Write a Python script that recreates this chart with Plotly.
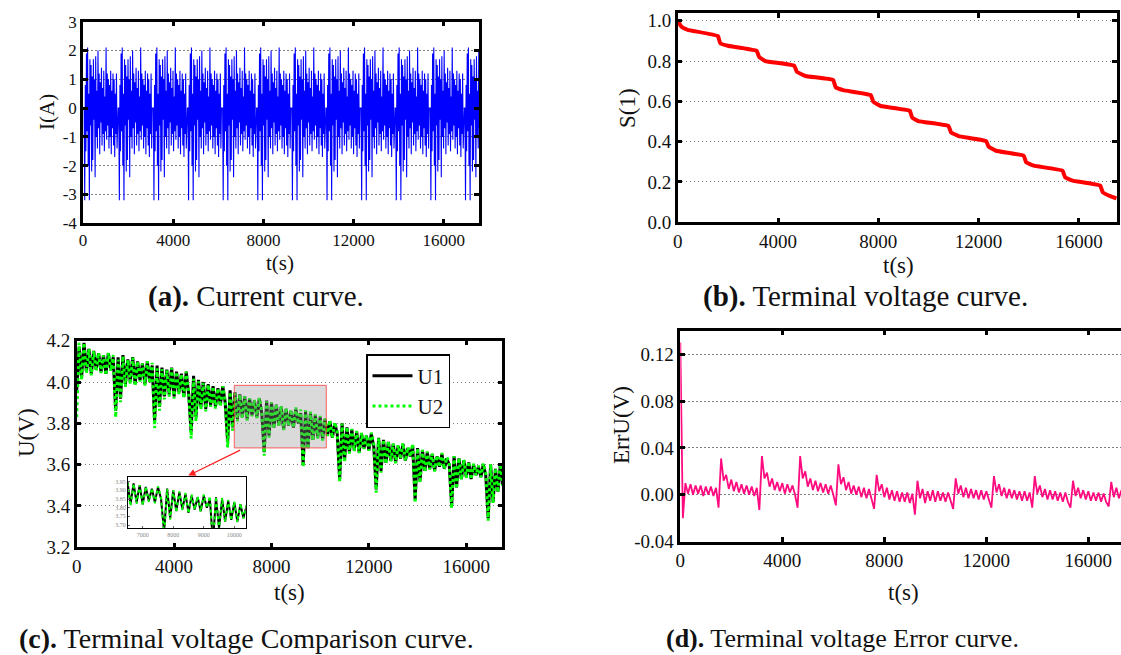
import numpy as np
import plotly.graph_objects as go

# ---------------- DATA ----------------
# (a) current: one drive-cycle profile (A); the test repeats this profile
current_cycle = [0.0, 0.0, 0.0, -3.2, 0.8, -1.5, 1.9, -0.8, 2.1, -2.0,
                 0.5, -3.2, 1.7, -0.6, 1.5, -2.2, 1.1, -1.8, 1.7, -0.4,
                 1.0, -2.4, 1.8, -1.0, 0.6, -1.4, 2.0, -0.7, 1.2, -1.6,
                 0.9, -0.5, 1.4, -1.3, 0.7, -0.9, 1.3, -1.5, 0.4, -0.8,
                 2.1, -1.1, 1.2, -0.6, 1.0, -1.4, 0.8, -1.0, 1.3, -1.6,
                 0.6, -0.7, 1.2, -1.3, 1.0, -1.7, 0.5, -0.9, 1.2, -1.4]
cycle_period_s = 1535
n_cycles = 12

# (b) SOC S(1) breakpoints
soc_t = [0, 150, 400, 1600, 1700, 2000, 3150, 3250, 3500, 4650, 4750, 5100,
         6200, 6300, 6600, 7700, 7800, 8100, 9250, 9350, 9600, 10800, 10900,
         11200, 12300, 12400, 12700, 13800, 13900, 14200, 15350, 15450, 15750,
         16850, 16950, 17250, 17500]
soc_v = [1.0, 0.97, 0.955, 0.924, 0.888, 0.876, 0.851, 0.82, 0.80, 0.777,
         0.747, 0.726, 0.706, 0.67, 0.656, 0.631, 0.598, 0.577, 0.554, 0.52,
         0.502, 0.478, 0.446, 0.428, 0.403, 0.375, 0.355, 0.33, 0.297, 0.281,
         0.256, 0.223, 0.207, 0.182, 0.149, 0.13, 0.119]

# (c) terminal voltage U1 (V), sampled every 100 s from 0 to 17500 s
u_step_s = 100
U1 = [3.96, 4.17, 4.02, 4.19, 4.05, 4.16, 4.04, 4.15, 4.06, 4.14,
      4.05, 4.13, 4.04, 4.14, 4.06, 4.12, 3.86, 4.12, 3.92, 4.13,
      3.99, 4.11, 4.00, 4.12, 3.99, 4.10, 4.01, 4.09, 3.99, 4.10,
      4.00, 4.08, 3.81, 4.08, 3.88, 4.07, 3.93, 4.06, 3.94, 4.07,
      3.93, 4.05, 3.95, 4.04, 3.93, 4.05, 3.94, 3.76, 4.03, 3.83,
      4.01, 3.88, 4.00, 3.87, 3.99, 3.89, 3.98, 3.88, 3.97, 3.89,
      3.98, 3.90, 3.71, 3.96, 3.78, 3.95, 3.82, 3.94, 3.83, 3.93,
      3.82, 3.92, 3.84, 3.91, 3.83, 3.92, 3.85, 3.66, 3.91, 3.74,
      3.90, 3.78, 3.89, 3.79, 3.88, 3.77, 3.87, 3.79, 3.86, 3.78,
      3.87, 3.80, 3.85, 3.60, 3.86, 3.68, 3.85, 3.72, 3.84, 3.73,
      3.83, 3.72, 3.82, 3.74, 3.81, 3.73, 3.80, 3.75, 3.53, 3.80,
      3.62, 3.78, 3.66, 3.77, 3.67, 3.76, 3.66, 3.75, 3.68, 3.74,
      3.67, 3.75, 3.69, 3.48, 3.73, 3.57, 3.72, 3.61, 3.71, 3.62,
      3.70, 3.61, 3.69, 3.63, 3.70, 3.62, 3.68, 3.64, 3.69, 3.43,
      3.68, 3.52, 3.67, 3.57, 3.66, 3.58, 3.65, 3.57, 3.64, 3.59,
      3.65, 3.58, 3.63, 3.60, 3.40, 3.64, 3.49, 3.63, 3.53, 3.62,
      3.54, 3.61, 3.53, 3.60, 3.55, 3.59, 3.54, 3.60, 3.55, 3.34,
      3.60, 3.42, 3.58, 3.47, 3.60, 3.50]

# (d) terminal voltage error ErrU = U1 - U2 (V), same sampling
ErrU = [0.130, -0.020, 0.010, 0.001, 0.009, 0.000, 0.008, 0.001, 0.008, -0.001,
        0.007, 0.000, 0.007, -0.001, 0.006, -0.011,
        0.031, 0.012, 0.017, 0.005, 0.013, 0.003, 0.011, 0.002, 0.009, 0.001,
        0.008, 0.000, 0.007, -0.001, 0.006, -0.013,
        0.033, 0.014, 0.019, 0.007, 0.014, 0.004, 0.011, 0.003, 0.010, 0.001,
        0.009, 0.002, 0.008, 0.000, -0.011,
        0.033, 0.014, 0.020, 0.007, 0.014, 0.004, 0.012, 0.003, 0.010, 0.002,
        0.009, 0.001, 0.008, 0.000, -0.009,
        0.026, 0.009, 0.015, 0.004, 0.011, 0.001, 0.008, 0.000, 0.007, -0.002,
        0.006, -0.003, 0.005, -0.003, -0.012,
        0.017, 0.003, 0.009, -0.002, 0.006, -0.004, 0.004, -0.005, 0.003, -0.006,
        0.002, -0.006, 0.002, -0.007, 0.001, -0.017,
        0.012, -0.003, 0.005, -0.007, 0.003, -0.005, 0.004, -0.006, 0.003, -0.005,
        0.002, -0.006, 0.002, -0.005, -0.012,
        0.014, 0.001, 0.008, -0.002, 0.006, -0.003, 0.005, -0.003, 0.004, -0.004,
        0.004, -0.004, 0.003, -0.005, -0.011,
        0.016, 0.002, 0.009, -0.001, 0.006, -0.003, 0.005, -0.003, 0.004, -0.004,
        0.003, -0.005, 0.003, -0.005, 0.002, -0.011,
        0.016, 0.001, 0.008, -0.002, 0.005, -0.004, 0.004, -0.004, 0.003, -0.005,
        0.002, -0.006, 0.002, -0.006, -0.011,
        0.012, -0.001, 0.006, -0.003, 0.004, -0.004, 0.003, -0.005, 0.002, -0.005,
        0.002, -0.006, 0.001, -0.006, -0.010,
        0.011, -0.002, 0.006, -0.003, 0.004, -0.004, 0.003]

# tick labels
x_ticks = [0, 4000, 8000, 12000, 16000]
x_tick_text = ["0", "4000", "8000", "12000", "16000"]
a_y_ticks = [-4, -3, -2, -1, 0, 1, 2, 3]
a_y_text = ["-4", "-3", "-2", "-1", "0", "1", "2", "3"]
b_y_ticks = [0.0, 0.2, 0.4, 0.6, 0.8, 1.0]
b_y_text = ["0.0", "0.2", "0.4", "0.6", "0.8", "1.0"]
c_y_ticks = [3.2, 3.4, 3.6, 3.8, 4.0, 4.2]
c_y_text = ["3.2", "3.4", "3.6", "3.8", "4.0", "4.2"]
d_y_ticks = [-0.04, 0.0, 0.04, 0.08, 0.12]
d_y_text = ["-0.04", "0.00", "0.04", "0.08", "0.12"]
in_x_ticks = [7000, 8000, 9000, 10000]
in_x_text = ["7000", "8000", "9000", "10000"]
in_y_ticks = [3.70, 3.75, 3.80, 3.85, 3.90, 3.95]
in_y_text = ["3.70", "3.75", "3.80", "3.85", "3.90", "3.95"]

# ---------------- DERIVED ----------------
cur_dt = cycle_period_s / len(current_cycle)
current = np.tile(current_cycle, n_cycles)
t_cur = np.arange(len(current)) * cur_dt
t_u = np.arange(len(U1)) * u_step_s
U1a = np.array(U1)
U2a = U1a - np.array(ErrU)

FONT = "Liberation Serif, Times New Roman, serif"
W, H = 1121, 655
GRID_DASH = "1.5px,2.5px"

def px(x):
    return x / W

def py(y):
    return 1 - y / H

fig = go.Figure()

# (a)
fig.add_trace(go.Scatter(x=t_cur, y=current, mode="lines",
                         line=dict(color="#0000FF", width=1.1),
                         xaxis="x", yaxis="y", showlegend=False))
# (b)
fig.add_trace(go.Scatter(x=soc_t, y=soc_v, mode="lines",
                         line=dict(color="#FF0000", width=4, shape="spline", smoothing=0.3),
                         xaxis="x2", yaxis="y2", showlegend=False))
# (c)
fig.add_trace(go.Scatter(x=t_u, y=U1a, mode="lines", name="U1",
                         line=dict(color="#000000", width=3),
                         xaxis="x3", yaxis="y3"))
fig.add_trace(go.Scatter(x=t_u, y=U2a, mode="lines", name="U2",
                         line=dict(color="#00FF00", width=3, dash="dot"),
                         xaxis="x3", yaxis="y3"))
# inset
fig.add_trace(go.Scatter(x=t_u, y=U1a, mode="lines",
                         line=dict(color="#000000", width=2),
                         xaxis="x5", yaxis="y5", showlegend=False))
fig.add_trace(go.Scatter(x=t_u, y=U2a, mode="lines",
                         line=dict(color="#00FF00", width=2, dash="dot"),
                         xaxis="x5", yaxis="y5", showlegend=False))
# (d)
fig.add_trace(go.Scatter(x=t_u, y=ErrU, mode="lines",
                         line=dict(color="#FF0A7F", width=1.8),
                         xaxis="x4", yaxis="y4", showlegend=False))

def xax(domain, rng, anchor, size, mirror="ticks"):
    return dict(domain=domain, range=rng, anchor=anchor,
                tickvals=x_ticks, ticktext=x_tick_text,
                showline=True, linecolor="black", linewidth=2.5, mirror=mirror,
                ticks="inside", ticklen=5, tickwidth=2.5, tickcolor="black",
                showgrid=False, zeroline=False,
                tickfont=dict(family=FONT, size=size, color="#111"))

def yax(domain, rng, anchor, tv, tt, size, mirror="ticks"):
    return dict(domain=domain, range=rng, anchor=anchor,
                tickvals=tv, ticktext=tt,
                showline=True, linecolor="black", linewidth=2.5, mirror=mirror,
                ticks="inside", ticklen=5, tickwidth=2.5, tickcolor="black",
                showgrid=True, gridcolor="#808080", griddash=GRID_DASH, gridwidth=1,
                zeroline=False,
                tickfont=dict(family=FONT, size=size, color="#111"))

layout = dict(
    width=W, height=H, autosize=False,
    margin=dict(l=0, r=0, t=0, b=0, pad=0, autoexpand=False),
    paper_bgcolor="white", plot_bgcolor="white",
    font=dict(family=FONT, color="#111"),
    xaxis=xax([px(83), px(479)], [0, 17560], "y", 17),
    yaxis=yax([py(223.3), py(21.7)], [-4, 3], "x", a_y_ticks, a_y_text, 17),
    xaxis2=xax([px(677.7), px(1117)], [0, 17520], "y2", 19),
    yaxis2=yax([py(222.3), py(13.3)], [0, 1.037], "x2", b_y_ticks, b_y_text, 19),
    xaxis3=xax([px(76.7), px(502.3)], [0, 17480], "y3", 19),
    yaxis3=yax([py(547.3), py(340.7)], [3.2, 4.2], "x3", c_y_ticks, c_y_text, 19),
    xaxis4=xax([px(680.3), 1.0], [0, 17282], "y4", 19),
    yaxis4=yax([py(541.7), py(330.7)], [-0.04, 0.14], "x4", d_y_ticks, d_y_text, 19, mirror=False),
    xaxis5=dict(domain=[px(128), px(245.7)], range=[6518, 10373], anchor="y5",
                tickvals=in_x_ticks, ticktext=in_x_text,
                ticks="inside", ticklen=2, tickcolor="#666",
                showline=True, linecolor="black", linewidth=1, mirror=True,
                showgrid=False, zeroline=False,
                tickfont=dict(family=FONT, size=6, color="#888")),
    yaxis5=dict(domain=[py(528.3), py(476.7)], range=[3.681, 3.979], anchor="x5",
                tickvals=in_y_ticks, ticktext=in_y_text, ticks="inside", ticklen=2,
                tickcolor="#666",
                showline=True, linecolor="black", linewidth=1, mirror=True,
                showgrid=False, zeroline=False,
                tickfont=dict(family=FONT, size=6, color="#888")),
    legend=dict(x=px(366), y=py(354), xanchor="left", yanchor="top",
                bgcolor="white", bordercolor="black", borderwidth=1.5,
                font=dict(family=FONT, size=21, color="#111"),
                itemwidth=40, tracegroupgap=0),
    showlegend=True,
)
fig.update_layout(**layout)

# zoom rectangle + arrow in (c)
fig.add_shape(type="rect", xref="x3", yref="y3", x0=6472, x1=10250, y0=3.681, y1=3.984,
              fillcolor="rgba(150,150,150,0.35)", line=dict(color="rgba(255,60,60,0.8)", width=1),
              layer="above")
fig.add_annotation(xref="x3", yref="y3", axref="x3", ayref="y3",
                   x=4583, y=3.547, ax=6776, ay=3.674, text="",
                   showarrow=True, arrowhead=2, arrowsize=1.2, arrowwidth=1.2,
                   arrowcolor="#FF2020")

# axis titles & captions
def label(x, y, text, size, angle=0):
    fig.add_annotation(xref="paper", yref="paper", x=px(x), y=py(y), text=text,
                       showarrow=False, xanchor="center", yanchor="middle",
                       textangle=angle, borderpad=0,
                       font=dict(family=FONT, size=size, color="#111"))

label(280, 263, "t(s)", 21)
label(47, 112, "I(A)", 21, -90)
label(898, 265, "t(s)", 23)
label(627, 108, "S(1)", 23, -90)
label(289, 592, "t(s)", 23)
label(26, 433, "U(V)", 23, -90)
label(903, 592, "t(s)", 23)
label(621, 425, "ErrU(V)", 23, -90)

label(256, 296, "<b>(a).</b> Current curve.", 29)
label(866, 296, "<b>(b).</b> Terminal voltage curve.", 29)
label(246, 638, "<b>(c).</b> Terminal voltage Comparison curve.", 28)
label(843, 638, "<b>(d).</b> Terminal voltage Error curve.", 26)

fig.write_html(
    "out.html",
    config={"displayModeBar": False, "responsive": False},
    post_script=("document.documentElement.style.margin='0';"
                 "document.body.style.margin='0';"
                 "document.body.style.overflow='hidden';"),
)
